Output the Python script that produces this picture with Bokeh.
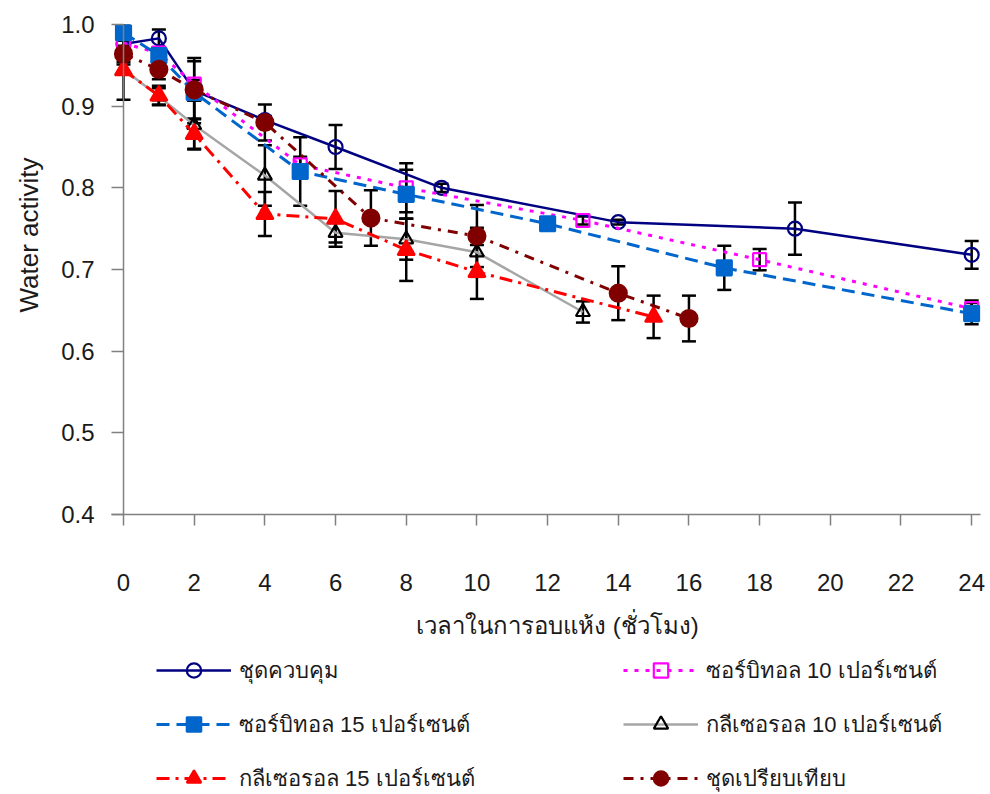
from bokeh.plotting import figure
from bokeh.models import (ColumnDataSource, Whisker, TeeHead, Legend, LegendItem,
                          FixedTicker, PrintfTickFormatter, Title, Span, Label)
from bokeh.layouts import column
from bokeh.embed import file_html
from bokeh.resources import INLINE

# ---------------- data ----------------
names = ["ชุดควบคุม", "ซอร์บิทอล 10 เปอร์เซนต์", "ซอร์บิทอล 15 เปอร์เซนต์",
         "กลีเซอรอล 10 เปอร์เซนต์", "กลีเซอรอล 15 เปอร์เซนต์", "ชุดเปรียบเทียบ"]

control_x = [0, 1, 2, 4, 6, 9, 14, 19, 24]
control_y = [0.976, 0.983, 0.919, 0.883, 0.850, 0.800, 0.758, 0.750, 0.718]
control_e = [0.005, 0.011, 0.040, 0.005, 0.027, 0.005, 0.003, 0.032, 0.017]

sorb10_x = [0, 1, 2, 5, 8, 13, 18, 24]
sorb10_y = [0.977, 0.965, 0.927, 0.828, 0.800, 0.760, 0.712, 0.652]
sorb10_e = [0.005, 0.005, 0.005, 0.010, 0.030, 0.005, 0.013, 0.010]

sorb15_x = [0, 1, 2, 5, 8, 12, 17, 24]
sorb15_y = [0.990, 0.962, 0.917, 0.820, 0.792, 0.756, 0.702, 0.646]
sorb15_e = [0.010, 0.010, 0.010, 0.042, 0.030, 0.003, 0.027, 0.013]

gly10_x = [0, 1, 2, 4, 6, 8, 10, 13]
gly10_y = [0.945, 0.912, 0.877, 0.815, 0.745, 0.737, 0.721, 0.648]
gly10_e = [0.006, 0.010, 0.030, 0.037, 0.012, 0.025, 0.030, 0.013]

gly15_x = [0, 1, 2, 4, 6, 8, 10, 15]
gly15_y = [0.944, 0.913, 0.866, 0.768, 0.762, 0.724, 0.697, 0.642]
gly15_e = [0.036, 0.012, 0.018, 0.027, 0.034, 0.038, 0.033, 0.026]

comp_x = [0, 1, 2, 4, 7, 10, 14, 16]
comp_y = [0.964, 0.945, 0.920, 0.880, 0.763, 0.741, 0.671, 0.640]
comp_e = [0.010, 0.012, 0.035, 0.022, 0.034, 0.038, 0.033, 0.028]

x_ticks = [0, 2, 4, 6, 8, 10, 12, 14, 16, 18, 20, 22, 24]
y_ticks = [0.4, 0.5, 0.6, 0.7, 0.8, 0.9, 1.0]

x_title = "เวลาในการอบแห้ง (ชั่วโมง)"
y_title = "Water activity"

# ---------------- styles ----------------
styles = [
    dict(color="#000080", dash="solid", width=2.5, marker="circle", size=14,
         fill=None, mline="#000080"),
    dict(color="#FF00FF", dash="4 7", width=3, marker="square", size=13,
         fill=None, mline="#FF00FF"),
    dict(color="#0066CC", dash="13 7", width=3, marker="square", size=15,
         fill="#0066CC", mline="#0066CC"),
    dict(color="#A6A6A6", dash="solid", width=2.5, marker="triangle", size=14,
         fill=None, mline="#000000"),
    dict(color="#FF0000", dash="13 6 3 6", width=3, marker="triangle", size=17,
         fill="#FF0000", mline="#FF0000"),
    dict(color="#800000", dash="10 7 3 7", width=3, marker="circle", size=17,
         fill="#800000", mline="#800000"),
]

series = [(control_x, control_y, control_e), (sorb10_x, sorb10_y, sorb10_e),
          (sorb15_x, sorb15_y, sorb15_e), (gly10_x, gly10_y, gly10_e),
          (gly15_x, gly15_y, gly15_e), (comp_x, comp_y, comp_e)]

X_RANGE = (-0.34, 24.25)
TOP_H = 606
p = figure(width=990, height=TOP_H, output_backend="svg", toolbar_location=None,
           x_range=X_RANGE, y_range=(0.4, 1.0),
           min_border_left=109, min_border_right=10, min_border_top=24,
           min_border_bottom=TOP_H - 514)
p.outline_line_color = None
p.xgrid.visible = False
p.ygrid.visible = False
p.background_fill_color = "white"
p.border_fill_color = "white"

for ax in (p.xaxis, p.yaxis):
    ax.axis_line_color = "#808080"
    ax.axis_line_width = 1.5
    ax.major_tick_line_color = "#808080"
    ax.major_tick_line_width = 1.5
    ax.minor_tick_line_color = None
    ax.major_label_text_font = "Liberation Sans"
    ax.major_label_text_font_size = "24px"
    ax.major_label_text_color = "#1a1a1a"

p.xaxis.ticker = FixedTicker(ticks=x_ticks)
p.xaxis.major_tick_in = 0
p.xaxis.major_tick_out = 11
p.xaxis.major_label_standoff = 48

p.yaxis.ticker = FixedTicker(ticks=y_ticks)
p.yaxis.formatter = PrintfTickFormatter(format="%.1f")
p.yaxis.axis_line_color = None
p.yaxis.major_tick_in = 12
p.yaxis.major_tick_out = 0
p.yaxis.major_label_standoff = 17

# vertical axis line at x = 0
p.add_layout(Span(location=x_ticks[0], dimension="height", line_color="#808080",
                  line_width=1.5))

sources = []
for (xs, ys, es), st in zip(series, styles):
    src = ColumnDataSource(dict(x=xs, y=ys,
                                lo=[a - b for a, b in zip(ys, es)],
                                hi=[a + b for a, b in zip(ys, es)]))
    sources.append(src)
    p.line("x", "y", source=src, line_color=st["color"],
           line_width=st["width"], line_dash=st["dash"])
    p.add_layout(Whisker(base="x", lower="lo", upper="hi", source=src,
                         dimension="height", line_color="black", line_width=2.5,
                         upper_head=TeeHead(size=14, line_color="black", line_width=2.5),
                         lower_head=TeeHead(size=14, line_color="black", line_width=2.5)))
    p.scatter("x", "y", source=src, marker=st["marker"], size=st["size"],
              fill_color=st["fill"] if st["fill"] else "white",
              fill_alpha=1.0 if st["fill"] else 0.0,
              line_color=st["mline"], line_width=2.2)

p.add_layout(Title(text=y_title, align="left", offset=202, vertical_align="top",
                   standoff=26, text_font="Liberation Sans", text_font_size="26px",
                   text_font_style="normal", text_color="#1a1a1a"), "left")

# ---------------- lower panel: x title + legend ----------------
LEG_H = 794 - TOP_H
OFF = 1000  # keeps the legend's sample renderers far outside this panel's view
q = figure(width=990, height=LEG_H, output_backend="svg", toolbar_location=None,
           x_range=X_RANGE, y_range=(-OFF - LEG_H, -OFF),
           min_border_left=109, min_border_right=10, min_border_top=0,
           min_border_bottom=0)
q.axis.visible = False
q.xgrid.visible = False
q.ygrid.visible = False
q.outline_line_color = None
q.background_fill_color = "white"
q.border_fill_color = "white"

q.add_layout(Label(x=12.28, y=-OFF - 19, text=x_title, text_align="center",
                   text_baseline="middle", text_font_size="24px",
                   text_color="#1a1a1a"))

items = []
for src, st, nm in zip(sources, styles, names):
    ln = q.line("x", "y", source=src, line_color=st["color"],
                line_width=st["width"], line_dash=st["dash"])
    sc = q.scatter("x", "y", source=src, marker=st["marker"], size=st["size"],
                   fill_color=st["fill"] if st["fill"] else "white",
                   fill_alpha=1.0 if st["fill"] else 0.0,
                   line_color=st["mline"], line_width=2.2)
    items.append(LegendItem(label=nm, renderers=[ln, sc]))

legend = Legend(items=items, location=(45, -2), orientation="horizontal", ncols=2,
                margin=0, padding=0, spacing=18,
                glyph_width=75, glyph_height=36, label_height=36, label_width=366,
                label_standoff=8, label_text_font_size="22px",
                label_text_color="#1a1a1a",
                border_line_color=None, background_fill_alpha=0)
q.add_layout(legend, "center")

open("out.html", "w").write(file_html(column(p, q), INLINE))
